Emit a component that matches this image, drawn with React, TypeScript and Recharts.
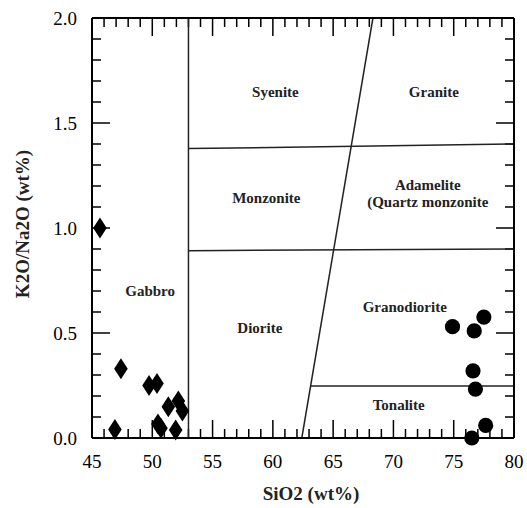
import React from 'react';
import { ScatterChart, Scatter, XAxis, YAxis, ReferenceLine } from 'recharts';

const FONT = '"Liberation Serif", "Times New Roman", Times, serif';

const xTicks = [45, 46, 47, 48, 49, 50, 51, 52, 53, 54, 55, 56, 57, 58, 59, 60, 61, 62, 63, 64, 65, 66, 67, 68, 69, 70, 71, 72, 73, 74, 75, 76, 77, 78, 79, 80];
const yTicks = [0, 0.1, 0.2, 0.3, 0.4, 0.5, 0.6, 0.7, 0.8, 0.9, 1.0, 1.1, 1.2, 1.3, 1.4, 1.5, 1.6, 1.7, 1.8, 1.9, 2.0];

const gabbroSamples = [
  { x: 45.66, y: 1.0 },
  { x: 47.4, y: 0.33 },
  { x: 46.9, y: 0.04 },
  { x: 49.73, y: 0.25 },
  { x: 50.39, y: 0.26 },
  { x: 50.47, y: 0.067 },
  { x: 50.72, y: 0.046 },
  { x: 51.33, y: 0.149 },
  { x: 52.16, y: 0.176 },
  { x: 52.5, y: 0.129 },
  { x: 51.94, y: 0.038 },
];

const graniteSamples = [
  { x: 74.9, y: 0.53 },
  { x: 77.5, y: 0.576 },
  { x: 76.7, y: 0.51 },
  { x: 76.6, y: 0.32 },
  { x: 76.8, y: 0.233 },
  { x: 77.65, y: 0.06 },
  { x: 76.5, y: 0.0 },
];

const boundaries = [
  { x1: 53, y1: 0, x2: 53, y2: 2.0 },
  { x1: 53, y1: 1.378, x2: 80, y2: 1.4 },
  { x1: 53, y1: 0.892, x2: 80, y2: 0.9 },
  { x1: 62.4, y1: 0, x2: 68.3, y2: 2.0 },
  { x1: 63.13, y1: 0.248, x2: 80, y2: 0.248 },
];

const regionLabels = [
  { x: 60.21, y: 1.649, label: 'Syenite' },
  { x: 73.35, y: 1.649, label: 'Granite' },
  { x: 59.46, y: 1.144, label: 'Monzonite' },
  { x: 72.85, y: 1.205, label: 'Adamelite' },
  { x: 72.85, y: 1.125, label: '(Quartz monzonite' },
  { x: 49.82, y: 0.7, label: 'Gabbro' },
  { x: 58.92, y: 0.525, label: 'Diorite' },
  { x: 70.94, y: 0.624, label: 'Granodiorite' },
  { x: 70.44, y: 0.157, label: 'Tonalite' },
];

const xTitle = 'SiO2 (wt%)';
const yTitle = 'K2O/Na2O (wt%)';

const isMajorX = (v: number) => Math.round(v) % 5 === 0;
const isMajorY = (v: number) => Math.round(v * 10) % 5 === 0;

const BottomTickLabel = (props: any) => {
  const x = Number(props.x);
  const y = Number(props.y);
  const v = props.payload.value;
  if (!isMajorX(v)) return <g />;
  return (
    <text x={x} y={y + 30} textAnchor="middle" fontSize={19} fontFamily={FONT} fill="#000" stroke="none">
      {String(v)}
    </text>
  );
};

const LeftTickLabel = (props: any) => {
  const x = Number(props.x);
  const y = Number(props.y);
  const v = props.payload.value;
  if (!isMajorY(v)) return <g />;
  return (
    <text x={x - 15} y={y + 6.5} textAnchor="end" fontSize={19} fontFamily={FONT} fill="#000" stroke="none">
      {v.toFixed(1)}
    </text>
  );
};

const makeXTickMarks = (major: boolean) => (props: any) => {
  const { x1, y1, y2 } = props;
  const len = major ? 18 : 9;
  const top = Math.min(y1, y2);
  const bottom = Math.max(y1, y2);
  return (
    <path
      d={`M${x1},${top}V${top + len}M${x1},${bottom}V${bottom - len}`}
      stroke="#000"
      strokeWidth={1.5}
      fill="none"
    />
  );
};

const makeYTickMarks = (major: boolean) => (props: any) => {
  const { x1, x2, y1 } = props;
  const len = major ? 18 : 9;
  const left = Math.min(x1, x2);
  const right = Math.max(x1, x2);
  return (
    <path
      d={`M${left},${y1}H${left + len}M${right},${y1}H${right - len}`}
      stroke="#000"
      strokeWidth={1.5}
      fill="none"
    />
  );
};

const Diamond = (props: any) => {
  const { cx, cy } = props;
  const w = 6.8;
  const h = 10.5;
  return <polygon points={`${cx},${cy - h} ${cx + w},${cy} ${cx},${cy + h} ${cx - w},${cy}`} fill="#000" />;
};

const Dot = (props: any) => {
  const { cx, cy } = props;
  return <circle cx={cx} cy={cy} r={7.6} fill="#000" />;
};

const RegionText = (props: any) => {
  const { cx, cy, payload } = props;
  return (
    <text x={cx} y={cy + 5} textAnchor="middle" fontSize={15} fontWeight="bold" fontFamily={FONT} fill="#222">
      {payload.label}
    </text>
  );
};

const XTitle = (props: any) => {
  const vb = props.viewBox;
  return (
    <text x={vb.x + vb.width / 2 + 8} y={vb.y + 62} textAnchor="middle" fontSize={19} fontWeight="bold" fontFamily={FONT} fill="#222">
      {xTitle}
    </text>
  );
};

const YTitle = (props: any) => {
  const vb = props.viewBox;
  const cx = 29;
  const cy = vb.y + vb.height / 2 - 4;
  return (
    <text x={cx} y={cy} transform={`rotate(-90 ${cx} ${cy})`} textAnchor="middle" fontSize={19} fontWeight="bold" fontFamily={FONT} fill="#222">
      {yTitle}
    </text>
  );
};

export default function App() {
  return (
    <div style={{ position: 'absolute', left: 0, top: 0, width: 527, height: 508, background: '#fff' }}>
      <ScatterChart width={527} height={508} margin={{ top: 17, right: 12, bottom: 69, left: 91 }}>
        <XAxis
          xAxisId="b"
          type="number"
          dataKey="x"
          domain={[45, 80]}
          ticks={xTicks}
          interval={0}
          height={1}
          tickSize={0}
          tickMargin={0}
          tick={BottomTickLabel}
          tickLine={false}
          axisLine={{ stroke: '#000', strokeWidth: 2 }}
          label={<XTitle />}
        />
        <XAxis
          xAxisId="t"
          orientation="top"
          type="number"
          dataKey="x"
          domain={[45, 80]}
          ticks={xTicks}
          height={1}
          tick={false}
          tickLine={false}
          axisLine={{ stroke: '#000', strokeWidth: 2 }}
        />
        <YAxis
          yAxisId="l"
          type="number"
          dataKey="y"
          domain={[0, 2]}
          ticks={yTicks}
          interval={0}
          width={1}
          tickSize={0}
          tickMargin={0}
          tick={LeftTickLabel}
          tickLine={false}
          axisLine={{ stroke: '#000', strokeWidth: 2 }}
          label={<YTitle />}
        />
        <YAxis
          yAxisId="r"
          orientation="right"
          type="number"
          dataKey="y"
          domain={[0, 2]}
          ticks={yTicks}
          width={1}
          tick={false}
          tickLine={false}
          axisLine={{ stroke: '#000', strokeWidth: 2 }}
        />
        {xTicks.map((v) => (
          <ReferenceLine
            key={`xt${v}`}
            xAxisId="b"
            yAxisId="l"
            x={v}
            stroke="#000"
            shape={makeXTickMarks(isMajorX(v))}
          />
        ))}
        {yTicks.map((v) => (
          <ReferenceLine
            key={`yt${v}`}
            xAxisId="b"
            yAxisId="l"
            y={v}
            stroke="#000"
            shape={makeYTickMarks(isMajorY(v))}
          />
        ))}
        {boundaries.map((b, i) => (
          <ReferenceLine
            key={i}
            xAxisId="b"
            yAxisId="l"
            segment={[{ x: b.x1, y: b.y1 }, { x: b.x2, y: b.y2 }]}
            stroke="#222"
            strokeWidth={1.5}
            ifOverflow="visible"
          />
        ))}
        <Scatter xAxisId="b" yAxisId="l" data={regionLabels} shape={<RegionText />} isAnimationActive={false} />
        <Scatter xAxisId="b" yAxisId="l" data={gabbroSamples} shape={<Diamond />} isAnimationActive={false} />
        <Scatter xAxisId="b" yAxisId="l" data={graniteSamples} shape={<Dot />} isAnimationActive={false} />
      </ScatterChart>
    </div>
  );
}
